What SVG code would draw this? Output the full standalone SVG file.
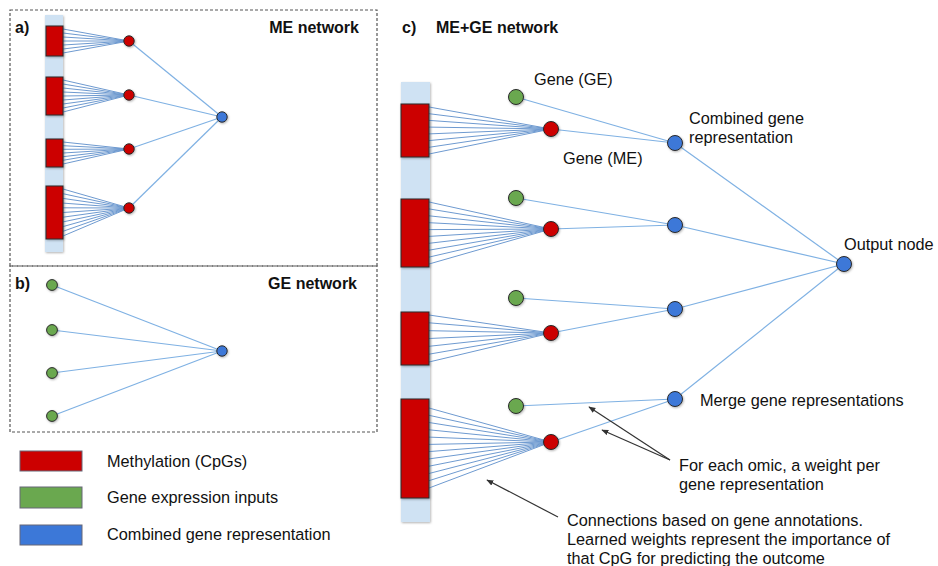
<svg xmlns="http://www.w3.org/2000/svg" width="938" height="566" viewBox="0 0 938 566">
<style>
text{font-family:"Liberation Sans",Arial,sans-serif;fill:#111}
.t{font-size:16.3px}
.b{font-size:16px;font-weight:bold}
.frame{fill:none;stroke:#555;stroke-width:1.2;stroke-dasharray:3 2}
.bar{fill:#cfe2f3}
.me{fill:#cc0000;stroke:#2a2a2a;stroke-width:1}
.ge{fill:#6aa84f;stroke:#2a2a2a;stroke-width:1}
.cb{fill:#3c78d8;stroke:#2a2a2a;stroke-width:1}
.fan line{stroke:#6e9ad0;stroke-width:1}
.edge{stroke:#7fb1e3;stroke-width:1.2;fill:none}
.arr{stroke:#333;stroke-width:1.2;fill:none;marker-end:url(#ah)}
</style>
<defs>
<filter id="sh" x="-20%" y="-20%" width="150%" height="150%">
<feDropShadow dx="0.8" dy="1" stdDeviation="0.8" flood-color="#000" flood-opacity="0.3"/>
</filter>
<marker id="ah" viewBox="0 0 10 10" refX="9" refY="5" markerWidth="7" markerHeight="7" orient="auto" markerUnits="userSpaceOnUse">
<path d="M0,1 L10,5 L0,9 Z" fill="#333"/>
</marker>
</defs>
<rect width="938" height="566" fill="#fff"/>

<g id="frames">
<rect class="frame" x="10" y="10" width="367" height="256"/>
<rect class="frame" x="10" y="266" width="367" height="166"/>
</g>

<g id="panel-a">
<text class="b" x="15" y="33">a)</text>
<text class="b" x="359" y="33" text-anchor="end">ME network</text>
<rect class="bar" x="45" y="15" width="18" height="237" filter="url(#sh)"/>
</g>

<g id="panel-b-labels">
<text class="b" x="15" y="289">b)</text>
<text class="b" x="357" y="289" text-anchor="end">GE network</text>
</g>

<g id="panel-c-labels">
<text class="b" x="402" y="33">c)</text>
<text class="b" x="436" y="33">ME+GE network</text>
<rect class="bar" x="401" y="82" width="29" height="440" filter="url(#sh)"/>
</g>

<g id="connectors">
<g class="fan">
<line x1="63" y1="29" x2="129" y2="41"/><line x1="63" y1="33" x2="129" y2="41"/><line x1="63" y1="37" x2="129" y2="41"/><line x1="63" y1="41" x2="129" y2="41"/><line x1="63" y1="45" x2="129" y2="41"/><line x1="63" y1="49" x2="129" y2="41"/><line x1="63" y1="53" x2="129" y2="41"/>
<line x1="63" y1="80" x2="129" y2="95"/><line x1="63" y1="84" x2="129" y2="95"/><line x1="63" y1="88" x2="129" y2="95"/><line x1="63" y1="92" x2="129" y2="95"/><line x1="63" y1="96" x2="129" y2="95"/><line x1="63" y1="100" x2="129" y2="95"/><line x1="63" y1="104" x2="129" y2="95"/><line x1="63" y1="108" x2="129" y2="95"/><line x1="63" y1="112" x2="129" y2="95"/>
<line x1="63" y1="142" x2="129" y2="149"/><line x1="63" y1="145.7" x2="129" y2="149"/><line x1="63" y1="149.3" x2="129" y2="149"/><line x1="63" y1="153" x2="129" y2="149"/><line x1="63" y1="156.7" x2="129" y2="149"/><line x1="63" y1="160.3" x2="129" y2="149"/><line x1="63" y1="164" x2="129" y2="149"/>
<line x1="63" y1="189" x2="129" y2="208"/><line x1="63" y1="193.7" x2="129" y2="208"/><line x1="63" y1="198.4" x2="129" y2="208"/><line x1="63" y1="203.1" x2="129" y2="208"/><line x1="63" y1="207.8" x2="129" y2="208"/><line x1="63" y1="212.5" x2="129" y2="208"/><line x1="63" y1="217.2" x2="129" y2="208"/><line x1="63" y1="221.9" x2="129" y2="208"/><line x1="63" y1="226.6" x2="129" y2="208"/><line x1="63" y1="231.3" x2="129" y2="208"/><line x1="63" y1="236" x2="129" y2="208"/>

<line x1="429" y1="107" x2="551" y2="129"/><line x1="429" y1="113.7" x2="551" y2="129"/><line x1="429" y1="120.4" x2="551" y2="129"/><line x1="429" y1="127.1" x2="551" y2="129"/><line x1="429" y1="133.9" x2="551" y2="129"/><line x1="429" y1="140.6" x2="551" y2="129"/><line x1="429" y1="147.3" x2="551" y2="129"/><line x1="429" y1="154" x2="551" y2="129"/>
<line x1="429" y1="202" x2="551" y2="229"/><line x1="429" y1="208.9" x2="551" y2="229"/><line x1="429" y1="215.8" x2="551" y2="229"/><line x1="429" y1="222.7" x2="551" y2="229"/><line x1="429" y1="229.6" x2="551" y2="229"/><line x1="429" y1="236.4" x2="551" y2="229"/><line x1="429" y1="243.3" x2="551" y2="229"/><line x1="429" y1="250.2" x2="551" y2="229"/><line x1="429" y1="257.1" x2="551" y2="229"/><line x1="429" y1="264" x2="551" y2="229"/>
<line x1="429" y1="315" x2="551" y2="333"/><line x1="429" y1="322.8" x2="551" y2="333"/><line x1="429" y1="330.7" x2="551" y2="333"/><line x1="429" y1="338.5" x2="551" y2="333"/><line x1="429" y1="346.3" x2="551" y2="333"/><line x1="429" y1="354.2" x2="551" y2="333"/><line x1="429" y1="362" x2="551" y2="333"/>
<line x1="429" y1="408" x2="551" y2="442"/><line x1="429" y1="415.3" x2="551" y2="442"/><line x1="429" y1="422.5" x2="551" y2="442"/><line x1="429" y1="429.8" x2="551" y2="442"/><line x1="429" y1="437.1" x2="551" y2="442"/><line x1="429" y1="444.4" x2="551" y2="442"/><line x1="429" y1="451.6" x2="551" y2="442"/><line x1="429" y1="458.9" x2="551" y2="442"/><line x1="429" y1="466.2" x2="551" y2="442"/><line x1="429" y1="473.5" x2="551" y2="442"/><line x1="429" y1="480.7" x2="551" y2="442"/><line x1="429" y1="488" x2="551" y2="442"/>
</g>
<g class="edge">
<line x1="129" y1="41" x2="222" y2="117"/><line x1="129" y1="95" x2="222" y2="117"/><line x1="129" y1="149" x2="222" y2="117"/><line x1="129" y1="208" x2="222" y2="117"/>
<line x1="52" y1="285" x2="222" y2="351"/><line x1="52" y1="330" x2="222" y2="351"/><line x1="52" y1="373" x2="222" y2="351"/><line x1="52" y1="416" x2="222" y2="351"/>
<line x1="516" y1="97" x2="675" y2="143"/><line x1="551" y1="129" x2="675" y2="143"/>
<line x1="516" y1="198" x2="675" y2="225"/><line x1="551" y1="229" x2="675" y2="225"/>
<line x1="516" y1="298" x2="675" y2="309"/><line x1="551" y1="333" x2="675" y2="309"/>
<line x1="516" y1="406" x2="675" y2="399"/><line x1="551" y1="442" x2="675" y2="399"/>
<line x1="675" y1="143" x2="844" y2="264"/><line x1="675" y1="225" x2="844" y2="264"/><line x1="675" y1="309" x2="844" y2="264"/><line x1="675" y1="399" x2="844" y2="264"/>
</g>
<g id="annotation-arrows">
<line class="arr" x1="670" y1="460" x2="589" y2="407"/>
<line class="arr" x1="670" y1="460" x2="602" y2="430"/>
<line class="arr" x1="558" y1="517" x2="487" y2="480"/>
</g>
</g>

<g id="a-cpg1"><rect class="me" x="46" y="26" width="17" height="30" filter="url(#sh)"/></g>
<g id="a-cpg2"><rect class="me" x="46" y="77" width="17" height="38" filter="url(#sh)"/></g>
<g id="a-cpg3"><rect class="me" x="46" y="139" width="17" height="28" filter="url(#sh)"/></g>
<g id="a-cpg4"><rect class="me" x="46" y="186" width="17" height="53" filter="url(#sh)"/></g>
<g id="a-gene1"><circle class="me" cx="129" cy="41" r="5.2" filter="url(#sh)"/></g>
<g id="a-gene2"><circle class="me" cx="129" cy="95" r="5.2" filter="url(#sh)"/></g>
<g id="a-gene3"><circle class="me" cx="129" cy="149" r="5.2" filter="url(#sh)"/></g>
<g id="a-gene4"><circle class="me" cx="129" cy="208" r="5.2" filter="url(#sh)"/></g>
<g id="a-out"><circle class="cb" cx="222" cy="117" r="5.2" filter="url(#sh)"/></g>

<g id="b-gene1"><circle class="ge" cx="52" cy="285" r="5.4" filter="url(#sh)"/></g>
<g id="b-gene2"><circle class="ge" cx="52" cy="330" r="5.4" filter="url(#sh)"/></g>
<g id="b-gene3"><circle class="ge" cx="52" cy="373" r="5.4" filter="url(#sh)"/></g>
<g id="b-gene4"><circle class="ge" cx="52" cy="416" r="5.4" filter="url(#sh)"/></g>
<g id="b-out"><circle class="cb" cx="222" cy="351" r="5.2" filter="url(#sh)"/></g>

<g id="c-cpg1"><rect class="me" x="401" y="104" width="28" height="53" filter="url(#sh)"/></g>
<g id="c-cpg2"><rect class="me" x="401" y="199" width="28" height="68" filter="url(#sh)"/></g>
<g id="c-cpg3"><rect class="me" x="401" y="312" width="28" height="53" filter="url(#sh)"/></g>
<g id="c-cpg4"><rect class="me" x="401" y="399" width="28" height="99" filter="url(#sh)"/></g>
<g id="c-ge1"><circle class="ge" cx="516" cy="97" r="7.5" filter="url(#sh)"/></g>
<g id="c-ge2"><circle class="ge" cx="516" cy="198" r="7.5" filter="url(#sh)"/></g>
<g id="c-ge3"><circle class="ge" cx="516" cy="298" r="7.5" filter="url(#sh)"/></g>
<g id="c-ge4"><circle class="ge" cx="516" cy="406" r="7.5" filter="url(#sh)"/></g>
<g id="c-me1"><circle class="me" cx="551" cy="129" r="7.5" filter="url(#sh)"/></g>
<g id="c-me2"><circle class="me" cx="551" cy="229" r="7.5" filter="url(#sh)"/></g>
<g id="c-me3"><circle class="me" cx="551" cy="333" r="7.5" filter="url(#sh)"/></g>
<g id="c-me4"><circle class="me" cx="551" cy="442" r="7.5" filter="url(#sh)"/></g>
<g id="c-comb1"><circle class="cb" cx="675" cy="143" r="7.5" filter="url(#sh)"/></g>
<g id="c-comb2"><circle class="cb" cx="675" cy="225" r="7.5" filter="url(#sh)"/></g>
<g id="c-comb3"><circle class="cb" cx="675" cy="309" r="7.5" filter="url(#sh)"/></g>
<g id="c-comb4"><circle class="cb" cx="675" cy="399" r="7.5" filter="url(#sh)"/></g>
<g id="c-output"><circle class="cb" cx="844" cy="264" r="7.5" filter="url(#sh)"/></g>

<g id="c-text">
<text class="t" x="534" y="85">Gene (GE)</text>
<text class="t" x="563" y="164">Gene (ME)</text>
<text class="t" x="689" y="124">Combined gene</text>
<text class="t" x="689" y="143">representation</text>
<text class="t" x="844" y="250">Output node</text>
<text class="t" x="700" y="406">Merge gene representations</text>
<text class="t" x="679" y="471">For each omic, a weight per</text>
<text class="t" x="679" y="490">gene representation</text>
<text class="t" x="567" y="526">Connections based on gene annotations.</text>
<text class="t" x="567" y="545">Learned weights represent the importance of</text>
<text class="t" x="567" y="564">that CpG for predicting the outcome</text>
</g>

<g id="legend">
<rect class="me" x="20" y="451" width="62" height="20" style="stroke:#667"/>
<text class="t" x="107" y="467">Methylation (CpGs)</text>
<rect class="ge" x="20" y="487" width="62" height="21" style="stroke:#667"/>
<text class="t" x="107" y="503">Gene expression inputs</text>
<rect class="cb" x="20" y="525" width="62" height="20" style="stroke:#667"/>
<text class="t" x="107" y="540">Combined gene representation</text>
</g>
</svg>
